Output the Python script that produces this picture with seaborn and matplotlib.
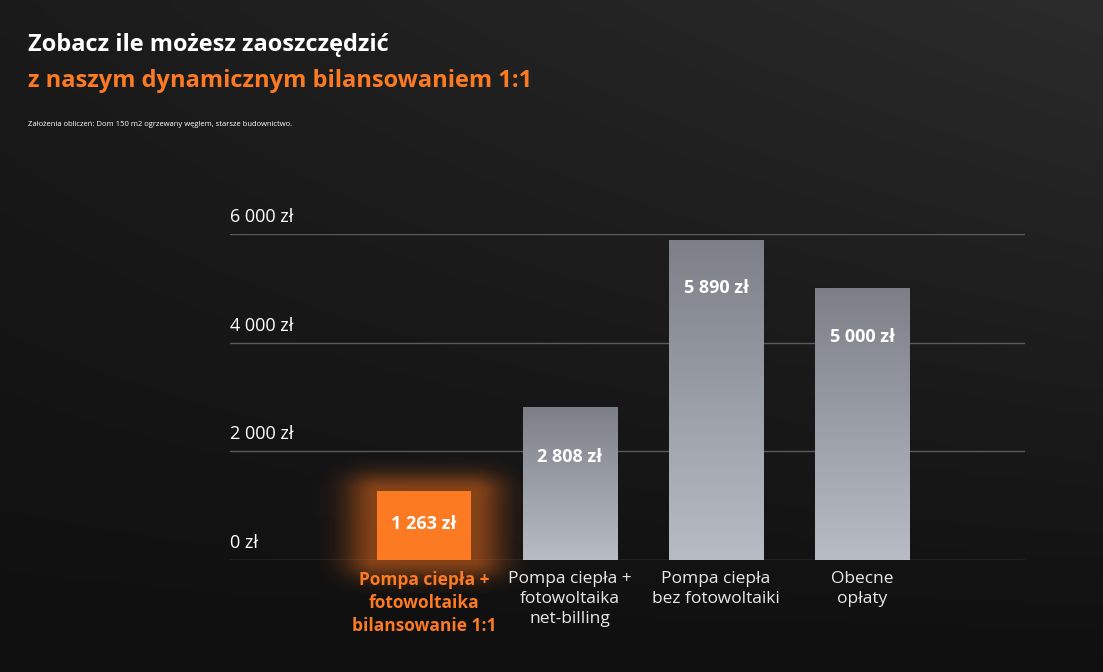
import numpy as np
import matplotlib
matplotlib.use("Agg")
import matplotlib.pyplot as plt
import seaborn as sns
import pandas as pd

categories = ["Pompa ciepła +\nfotowoltaika\nbilansowanie 1:1",
              "Pompa ciepła +\nfotowoltaika\nnet-billing",
              "Pompa ciepła\nbez fotowoltaiki",
              "Obecne\nopłaty"]
values = [1263, 2808, 5890, 5000]
value_labels = ["1 263 zł", "2 808 zł", "5 890 zł", "5 000 zł"]
yticks = [0, 2000, 4000, 6000]
ytick_labels = ["0 zł", "2 000 zł", "4 000 zł", "6 000 zł"]

plt.rcParams["font.family"] = "Open Sans"
fig = plt.figure(figsize=(11.03, 6.72), dpi=100)
fig.patch.set_facecolor("#151515")

bg = fig.add_axes([0, 0, 1, 1])
yy = np.linspace(0, 1, 200)[:, None]
xx = np.linspace(0, 1, 200)[None, :]
g = 0.06 + 0.11 * (1 - yy) * (0.4 + 0.6 * xx)
bg.imshow(np.dstack([g, g, g]), extent=[0, 1, 0, 1], aspect="auto", origin="upper")
bg.axis("off")

ax = fig.add_axes([230/1103, 112/672, 795/1103, 326/672])
ax.set_facecolor("none")
df = pd.DataFrame({"cat": categories, "val": values})
sns.barplot(data=df, x="cat", y="val", ax=ax, width=0.644, saturation=1,
            palette=["#fb7a22", "#9b9ea5", "#9b9ea5", "#9b9ea5"], hue="cat", legend=False)
ax.set_xlim(-1.329, 4.116)
ax.set_ylim(0, 6000)

for i, p in enumerate(ax.patches):
    if i == 0:
        p.set_zorder(3)
        continue
    x0, w, h = p.get_x(), p.get_width(), p.get_height()
    grad = np.linspace(0, 1, 100)[:, None]
    top = np.array([0.49, 0.50, 0.53]); bot = np.array([0.72, 0.74, 0.77])
    img = top + (bot - top) * grad[..., None]
    img = np.repeat(img, 2, axis=1)
    im = ax.imshow(img, extent=[x0, x0 + w, 0, h], origin="upper", aspect="auto", zorder=3)
    im.set_clip_path(p)

p0 = ax.patches[0]
hw, hh = p0.get_width() / 2, p0.get_height()
gx = np.linspace(-0.75, 0.75, 200)[None, :]
gy = np.linspace(-600, hh + 800, 200)[:, None]
dx = np.maximum(np.abs(gx) - hw, 0) / 0.22
dy = np.maximum(np.maximum(gy - hh, -gy), 0) / 350
a = 0.5 * np.exp(-(dx**2 + dy**2))
rgba = np.zeros((200, 200, 4)); rgba[..., 0] = 0.98; rgba[..., 1] = 0.45; rgba[..., 2] = 0.12; rgba[..., 3] = a
ax.imshow(rgba, extent=[-0.75, 0.75, -600, hh + 800], origin="lower", aspect="auto", zorder=1, clip_on=False)
ax.set_xlim(-1.329, 4.116)
ax.set_ylim(0, 6000)

for y in yticks:
    ax.axhline(y, color="#5a5a5a", lw=1, zorder=0.5)
for y, l in zip(yticks, ytick_labels):
    ax.text(-1.329, y + 150, l, color="white", fontsize=13, va="bottom", ha="left")

label_y = [660, 1900, 5000, 4100]
for i, (v, l) in enumerate(zip(values, value_labels)):
    ax.text(i, label_y[i], l, color="white", fontsize=13, fontweight="bold", ha="center", va="center", zorder=5)
for i, c in enumerate(categories):
    ax.text(i, -200, c, color="#fb7a22" if i == 0 else "#e8e8e8", fontsize=12.5,
            fontweight="bold" if i == 0 else "normal", ha="center", va="top", linespacing=1.35)

ax.set_xticks([]); ax.set_yticks([])
ax.set_xlabel(""); ax.set_ylabel("")
for s in ax.spines.values():
    s.set_visible(False)

fig.text(28/1103, 1 - 45/672, "Zobacz ile możesz zaoszczędzić", color="white", fontsize=17,
         fontweight="bold", va="center")
fig.text(28/1103, 1 - 81/672, "z naszym dynamicznym bilansowaniem 1:1", color="#fb7a22", fontsize=17,
         fontweight="bold", va="center")
fig.text(28/1103, 1 - 125/672, "Założenia obliczeń: Dom 150 m2 ogrzewany węglem, starsze budownictwo.",
         color="white", fontsize=5.5, va="center")

fig.savefig("out.png", dpi=100, facecolor=fig.get_facecolor())
